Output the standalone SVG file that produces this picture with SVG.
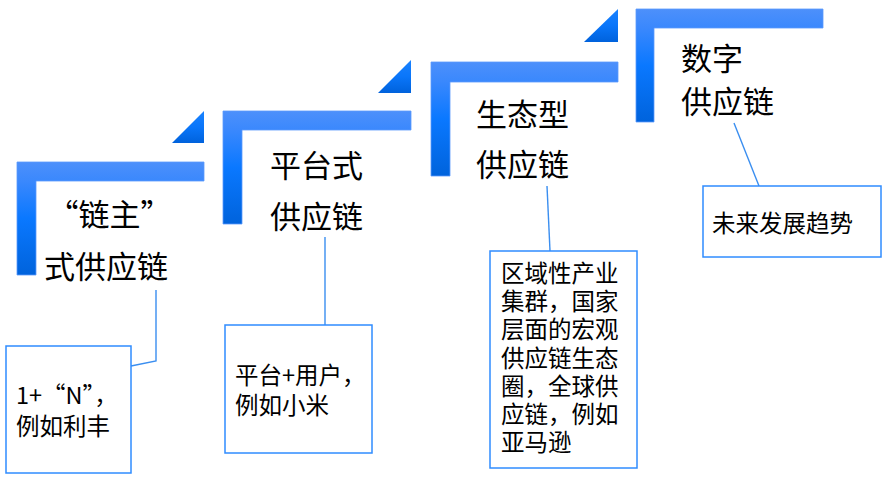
<svg xmlns="http://www.w3.org/2000/svg" width="891" height="491" viewBox="0 0 891 491">
<defs>
<linearGradient id="gL" x1="0" y1="0" x2="0" y2="1">
<stop offset="0" stop-color="#4d90fb"/>
<stop offset="0.17" stop-color="#3a88fd"/>
<stop offset="0.5" stop-color="#0a78ff"/>
<stop offset="1" stop-color="#0063dc"/>
</linearGradient>
<linearGradient id="gT" x1="0" y1="0" x2="0" y2="1">
<stop offset="0" stop-color="#1a82ff"/>
<stop offset="0.5" stop-color="#0a76fa"/>
<stop offset="1" stop-color="#0062dc"/>
</linearGradient>
</defs>
<style>
.step{fill:url(#gL);stroke:#5b9bfc;stroke-width:0.8}
.tri{fill:url(#gT)}
.big{font-family:"Noto Sans CJK SC","Liberation Sans",sans-serif;font-size:31px;fill:#000}
.sm{font-family:"Noto Sans CJK SC","Liberation Sans",sans-serif;font-size:23.5px;fill:#000}
.box{fill:#fff;stroke:#2f8cff;stroke-width:1.5}
.con{fill:none;stroke:#3a8ef0;stroke-width:1.4}
</style>
<rect width="891" height="491" fill="#fff"/>
<g id="connectors">
<polyline class="con" points="156,290 156,361 131,366"/>
<line class="con" x1="325" y1="237" x2="325" y2="325"/>
<line class="con" x1="547" y1="186" x2="550" y2="251"/>
<line class="con" x1="734" y1="123" x2="759" y2="186"/>
</g>
<g id="step1">
<path class="step" d="M17 162h187v19h-168v94h-19z"/>
<polygon class="tri" points="172,143 204,143 204,111"/>
<text class="big" x="109.5" y="226" text-anchor="middle">“链主”</text>
<text class="big" x="44" y="278">式供应链</text>
</g>
<g id="step2">
<path class="step" d="M223 111h188v19h-169v94h-19z"/>
<polygon class="tri" points="378,93 411,93 411,60"/>
<text class="big" x="270" y="177">平台式</text>
<text class="big" x="270" y="228">供应链</text>
</g>
<g id="step3">
<path class="step" d="M431 62h187v20h-168v94h-19z"/>
<polygon class="tri" points="584,42 618,42 618,9"/>
<text class="big" x="476" y="126">生态型</text>
<text class="big" x="476" y="176">供应链</text>
</g>
<g id="step4">
<path class="step" d="M636 9h187v19h-169v94h-18z"/>
<text class="big" x="681" y="70">数字</text>
<text class="big" x="681" y="113">供应链</text>
</g>
<g id="box1">
<rect class="box" x="6" y="346" width="125" height="127"/>
<text class="sm" x="16" y="404">1+“N”，</text>
<text class="sm" x="16" y="435">例如利丰</text>
</g>
<g id="box2">
<rect class="box" x="225" y="325" width="147" height="128"/>
<text class="sm" x="235" y="384">平台+用户，</text>
<text class="sm" x="235" y="414">例如小米</text>
</g>
<g id="box3">
<rect class="box" x="490" y="251" width="147" height="217"/>
<text class="sm" x="501" y="282">区域性产业</text>
<text class="sm" x="501" y="310.2">集群，国家</text>
<text class="sm" x="501" y="338.4">层面的宏观</text>
<text class="sm" x="501" y="366.6">供应链生态</text>
<text class="sm" x="501" y="394.8">圈，全球供</text>
<text class="sm" x="501" y="423">应链，例如</text>
<text class="sm" x="501" y="451.2">亚马逊</text>
</g>
<g id="box4">
<rect class="box" x="703" y="186" width="178" height="71"/>
<text class="sm" x="712" y="232">未来发展趋势</text>
</g>
</svg>
